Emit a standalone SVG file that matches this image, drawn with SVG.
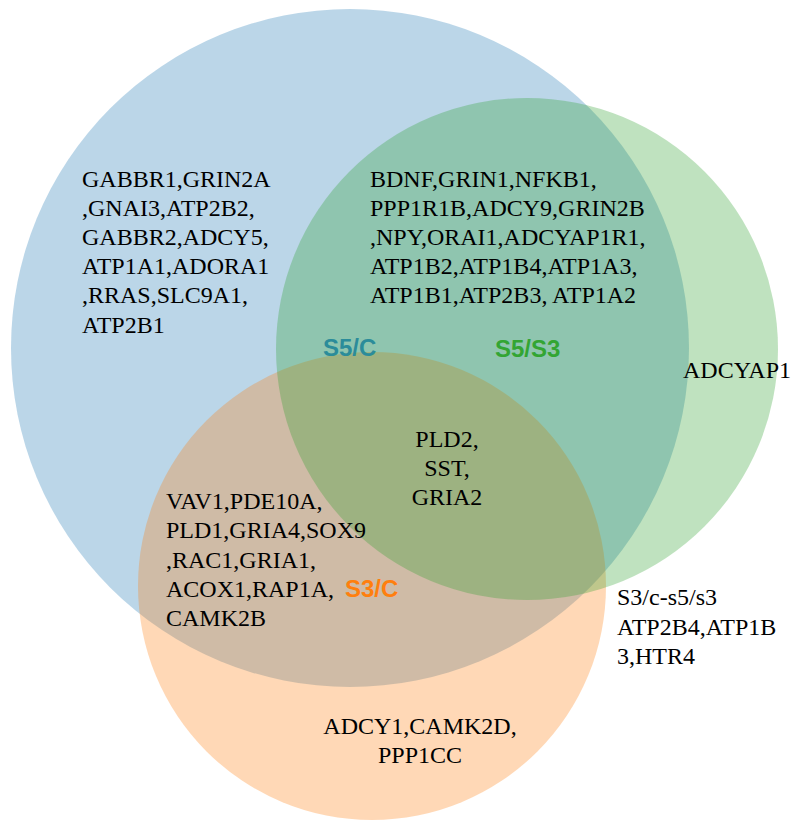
<svg xmlns="http://www.w3.org/2000/svg" width="793" height="820" viewBox="0 0 793 820">
<style>
.set{fill-opacity:0.3;stroke:none}
.gene{font-family:"Liberation Serif","Times New Roman",serif;font-size:24px;fill:#000}
.lab{font-family:"Liberation Sans",Arial,sans-serif;font-size:24px;font-weight:bold}
</style>
<rect width="793" height="820" fill="#ffffff"/>
<g id="set-C">
<circle class="set" cx="350" cy="348" r="339" fill="#1f77b4"/>
</g>
<g id="set-S3">
<circle class="set" cx="372" cy="586" r="234" fill="#ff7f0e"/>
</g>
<g id="set-S5">
<circle class="set" cx="527" cy="349" r="251" fill="#2ca02c"/>
</g>
<g id="connectors"></g>
<g id="region-C-only">
<text class="gene" x="82" y="187">GABBR1,GRIN2A</text>
<text class="gene" x="82" y="216">,GNAI3,ATP2B2,</text>
<text class="gene" x="82" y="245">GABBR2,ADCY5,</text>
<text class="gene" x="82" y="274">ATP1A1,ADORA1</text>
<text class="gene" x="82" y="303">,RRAS,SLC9A1,</text>
<text class="gene" x="82" y="333">ATP2B1</text>
</g>
<g id="region-S5-C">
<text class="gene" x="370" y="187">BDNF,GRIN1,NFKB1,</text>
<text class="gene" x="370" y="216">PPP1R1B,ADCY9,GRIN2B</text>
<text class="gene" x="370" y="245">,NPY,ORAI1,ADCYAP1R1,</text>
<text class="gene" x="370" y="274">ATP1B2,ATP1B4,ATP1A3,</text>
<text class="gene" x="370" y="303">ATP1B1,ATP2B3, ATP1A2</text>
<text class="lab" x="323" y="356" fill="#2b8c9a">S5/C</text>
<text class="lab" x="495" y="357" fill="#33a533">S5/S3</text>
</g>
<g id="region-S5-only">
<text class="gene" x="683" y="378">ADCYAP1</text>
</g>
<g id="region-all">
<text class="gene" x="447" y="447" text-anchor="middle">PLD2,</text>
<text class="gene" x="447" y="476" text-anchor="middle">SST,</text>
<text class="gene" x="447" y="505" text-anchor="middle">GRIA2</text>
</g>
<g id="region-S3-C">
<text class="gene" x="166" y="509">VAV1,PDE10A,</text>
<text class="gene" x="166" y="538">PLD1,GRIA4,SOX9</text>
<text class="gene" x="166" y="568">,RAC1,GRIA1,</text>
<text class="gene" x="166" y="597">ACOX1,RAP1A,</text>
<text class="gene" x="166" y="626">CAMK2B</text>
<text class="lab" x="345" y="597" fill="#ff7f0e">S3/C</text>
</g>
<g id="region-S3-only">
<text class="gene" x="420" y="734" text-anchor="middle">ADCY1,CAMK2D,</text>
<text class="gene" x="420" y="763" text-anchor="middle">PPP1CC</text>
</g>
<g id="region-S3-S5">
<text class="gene" x="617" y="605">S3/c-s5/s3</text>
<text class="gene" x="617" y="635">ATP2B4,ATP1B</text>
<text class="gene" x="617" y="664">3,HTR4</text>
</g>
</svg>
